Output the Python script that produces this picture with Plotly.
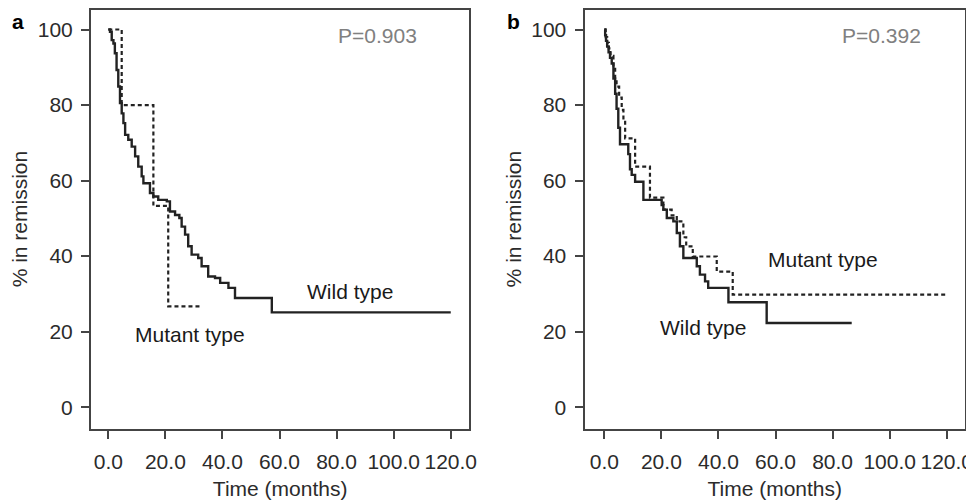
import plotly.graph_objects as go

# Panel a: Kaplan-Meier steps (time in months, % in remission)
a_wild_time = [0, 0.6, 1.2, 1.8, 2.3, 2.9, 3.5, 4.1, 4.7, 5.3, 5.9, 7.0, 8.2, 9.4, 10.5,
               11.7, 12.3, 14.6, 15.8, 17.5, 20.5, 21.6, 23.4, 24.9, 25.7, 26.9, 28.0,
               29.2, 31.5, 32.7, 35.0, 37.4, 39.2, 42.1, 44.4, 57.3, 120.0]
a_wild_pct = [100, 99.4, 97.2, 96.3, 93.7, 89.3, 84.9, 80.5, 77.8, 75.2, 72.1, 70.8, 69.0,
              66.4, 63.7, 61.1, 59.3, 56.7, 55.8, 54.9, 54.5, 51.8, 50.9, 50.1, 47.8, 45.7,
              42.6, 40.4, 39.5, 37.3, 34.6, 34.2, 32.9, 31.6, 28.9, 25.1, 25.1]
a_mut_time = [0, 4.7, 15.8, 21.0, 32.8]
a_mut_pct = [100, 80.0, 53.3, 26.7, 26.7]

# Panel b
b_wild_time = [0, 0.3, 0.6, 1.0, 1.5, 2.0, 2.6, 3.2, 3.8, 4.3, 4.9, 5.5, 8.4, 9.0, 9.6,
               10.8, 13.7, 20.1, 20.7, 21.9, 24.2, 25.4, 26.5, 27.7, 32.4, 33.5, 35.3,
               36.4, 43.5, 56.9, 86.7]
b_wild_pct = [100, 98.5, 97.0, 95.5, 94.0, 92.5, 91.0, 87.0, 83.0, 79.0, 74.0, 69.6, 67.0,
              63.0, 61.5, 59.7, 54.9, 53.5, 52.3, 50.1, 49.2, 46.1, 42.6, 39.5, 37.3, 35.1,
              33.3, 31.6, 27.8, 22.3, 22.3]
b_mut_time = [0, 0.5, 1.0, 1.6, 2.2, 3.2, 3.8, 4.3, 5.2, 6.1, 6.7, 7.3, 10.8, 16.0, 20.7,
              23.6, 25.4, 27.7, 28.7, 31.0, 39.4, 45.0, 119.5]
b_mut_pct = [100, 98.0, 96.5, 95.0, 93.0, 90.0, 87.0, 84.9, 82.0, 78.7, 76.0, 71.2, 63.7,
             55.5, 52.3, 50.8, 49.2, 45.0, 42.6, 39.9, 35.9, 29.8, 29.8]

x_ticks = [0, 20, 40, 60, 80, 100, 120]
y_ticks = [0, 20, 40, 60, 80, 100]
p_values = ["P=0.903", "P=0.392"]
panel_letters = ["a", "b"]

FONT = "Liberation Sans, Arial, sans-serif"
INK = "#2b2b2b"
FS = 21
# page body adds an 8px margin, so the figure is drawn 8px smaller
W, H = 966, 493

fig = go.Figure()


def add_curve(t, s, xa, ya, dash):
    fig.add_trace(go.Scatter(
        x=t, y=s, xaxis=xa, yaxis=ya, mode="lines", line_shape="hv",
        line=dict(color="#222222", width=2.4 if dash == "solid" else 2.2, dash=dash),
        showlegend=False, hoverinfo="skip",
    ))


add_curve(a_wild_time, a_wild_pct, "x", "y", "solid")
add_curve(a_mut_time, a_mut_pct, "x", "y", "4px,3px")
add_curve(b_wild_time, b_wild_pct, "x2", "y2", "solid")
add_curve(b_mut_time, b_mut_pct, "x2", "y2", "4px,3px")

ydom = [(H - 420.7) / H, (H - 1.5) / H]
common_x = dict(
    tickvals=x_ticks, tickformat=".1f", ticks="outside", ticklen=8, tickwidth=2,
    tickcolor="#444", showline=True, linecolor="#444", linewidth=2, mirror=True,
    showgrid=False, zeroline=False, automargin=False, ticklabelstandoff=5,
    tickfont=dict(size=FS, color=INK, family=FONT),
    title=dict(text="Time (months)", font=dict(size=FS, color=INK, family=FONT), standoff=9),
)
common_y = dict(
    range=[-5.7, 105.3], tickvals=y_ticks, ticks="outside", ticklen=8, tickwidth=2,
    tickcolor="#444", showline=True, linecolor="#444", linewidth=2, mirror=True,
    showgrid=False, zeroline=False, automargin=False, ticklabelstandoff=4,
    tickfont=dict(size=FS, color=INK, family=FONT),
    title=dict(text="% in remission", font=dict(size=FS, color=INK, family=FONT), standoff=4),
    domain=ydom,
)

fig.update_layout(
    width=W, height=H,
    margin=dict(l=0, r=0, t=0, b=0),
    paper_bgcolor="white", plot_bgcolor="white",
    font=dict(family=FONT, color=INK),
    xaxis=dict(common_x, domain=[83 / W, 461.3 / W], range=[-6.06, 126.5], anchor="y"),
    yaxis=dict(common_y, anchor="x"),
    xaxis2=dict(common_x, domain=[576.5 / W, 957 / W], range=[-6.94, 126.4], anchor="y2"),
    yaxis2=dict(common_y, anchor="x2"),
)

labels = [
    ("x", "y", 84.7, 30.6, "Wild type"),
    ("x", "y", 28.7, 19.2, "Mutant type"),
    ("x2", "y2", 76.5, 39.0, "Mutant type"),
    ("x2", "y2", 34.6, 21.1, "Wild type"),
]
for xr, yr, xv, yv, txt in labels:
    fig.add_annotation(x=xv, y=yv, xref=xr, yref=yr, text=txt, showarrow=False,
                       xanchor="center", yanchor="middle",
                       font=dict(size=FS, color="#1a1a1a", family=FONT))

fig.add_annotation(x=94.5, y=98.3, xref="x", yref="y", text=p_values[0], showarrow=False,
                   xanchor="center", yanchor="middle",
                   font=dict(size=FS, color="#808080", family=FONT))
fig.add_annotation(x=97.0, y=98.3, xref="x2", yref="y2", text=p_values[1], showarrow=False,
                   xanchor="center", yanchor="middle",
                   font=dict(size=FS, color="#808080", family=FONT))

for letter, px_x, px_y in [(panel_letters[0], 10, 13), (panel_letters[1], 505, 13)]:
    fig.add_annotation(x=px_x / W, y=1 - px_y / H, xref="paper", yref="paper",
                       text="<b>%s</b>" % letter, showarrow=False,
                       xanchor="center", yanchor="middle",
                       font=dict(size=21, color="black", family=FONT))

fig.write_html("out.html")
